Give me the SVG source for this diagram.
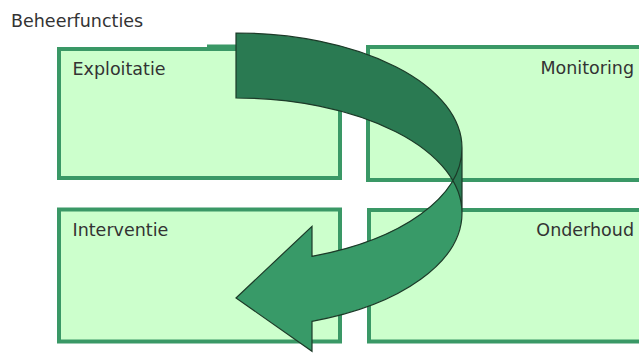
<svg xmlns="http://www.w3.org/2000/svg" width="639" height="356" viewBox="0 0 639 356">
  <style>
    .box { fill: #ccffcc; stroke: #3a9866; stroke-width: 4; }
    .lbl { font-family: "DejaVu Sans", Verdana, sans-serif; font-size: 17.5px; fill: #333333; }
    .front { fill: #389a68; }
    .back { fill: #2a7a52; }
    .edge { fill: none; stroke: #1c3a28; stroke-width: 1.2; stroke-linejoin: miter; }
  </style>
  <rect width="639" height="356" fill="#ffffff"/>

  <text class="lbl" x="11" y="27">Beheerfuncties</text>

  <g id="exploitatie">
    <rect class="box" x="59" y="49" width="281" height="129"/>
    <rect x="207" y="44.5" width="30" height="4" fill="#3a9866"/>
    <text class="lbl" x="72.5" y="75">Exploitatie</text>
  </g>

  <g id="monitoring">
    <rect class="box" x="368" y="47" width="300" height="133"/>
    <text class="lbl" x="634" y="74" text-anchor="end">Monitoring</text>
  </g>

  <g id="interventie">
    <rect class="box" x="59" y="209.5" width="281" height="132"/>
    <text class="lbl" x="72.5" y="235.5">Interventie</text>
  </g>

  <g id="onderhoud">
    <rect class="box" x="369" y="210" width="300" height="131.5"/>
    <text class="lbl" x="634" y="235.5" text-anchor="end">Onderhoud</text>
  </g>

  <!-- curved left arrow: two ellipses (rx 226, ry 115) centred on x=236 -->
  <g id="connectors">
    <path class="front" d="M236,298 L312,226.3 L312,256.3 A226,115 0 0 0 462,148 L462,213 A226,115 0 0 1 312,321.3 L312,351.3 Z"/>
    <path class="back" d="M236,33 A226,115 0 0 1 462,148 L462,213 A226,115 0 0 0 236,98 Z"/>
    <path class="edge" d="M462,213 A226,115 0 0 0 236,98 L236,33 A226,115 0 0 1 462,148 L462,213 A226,115 0 0 1 312,321.3 L312,351.3 L236,298 L312,226.3 L312,256.3 A226,115 0 0 0 462,148"/>
  </g>
</svg>
